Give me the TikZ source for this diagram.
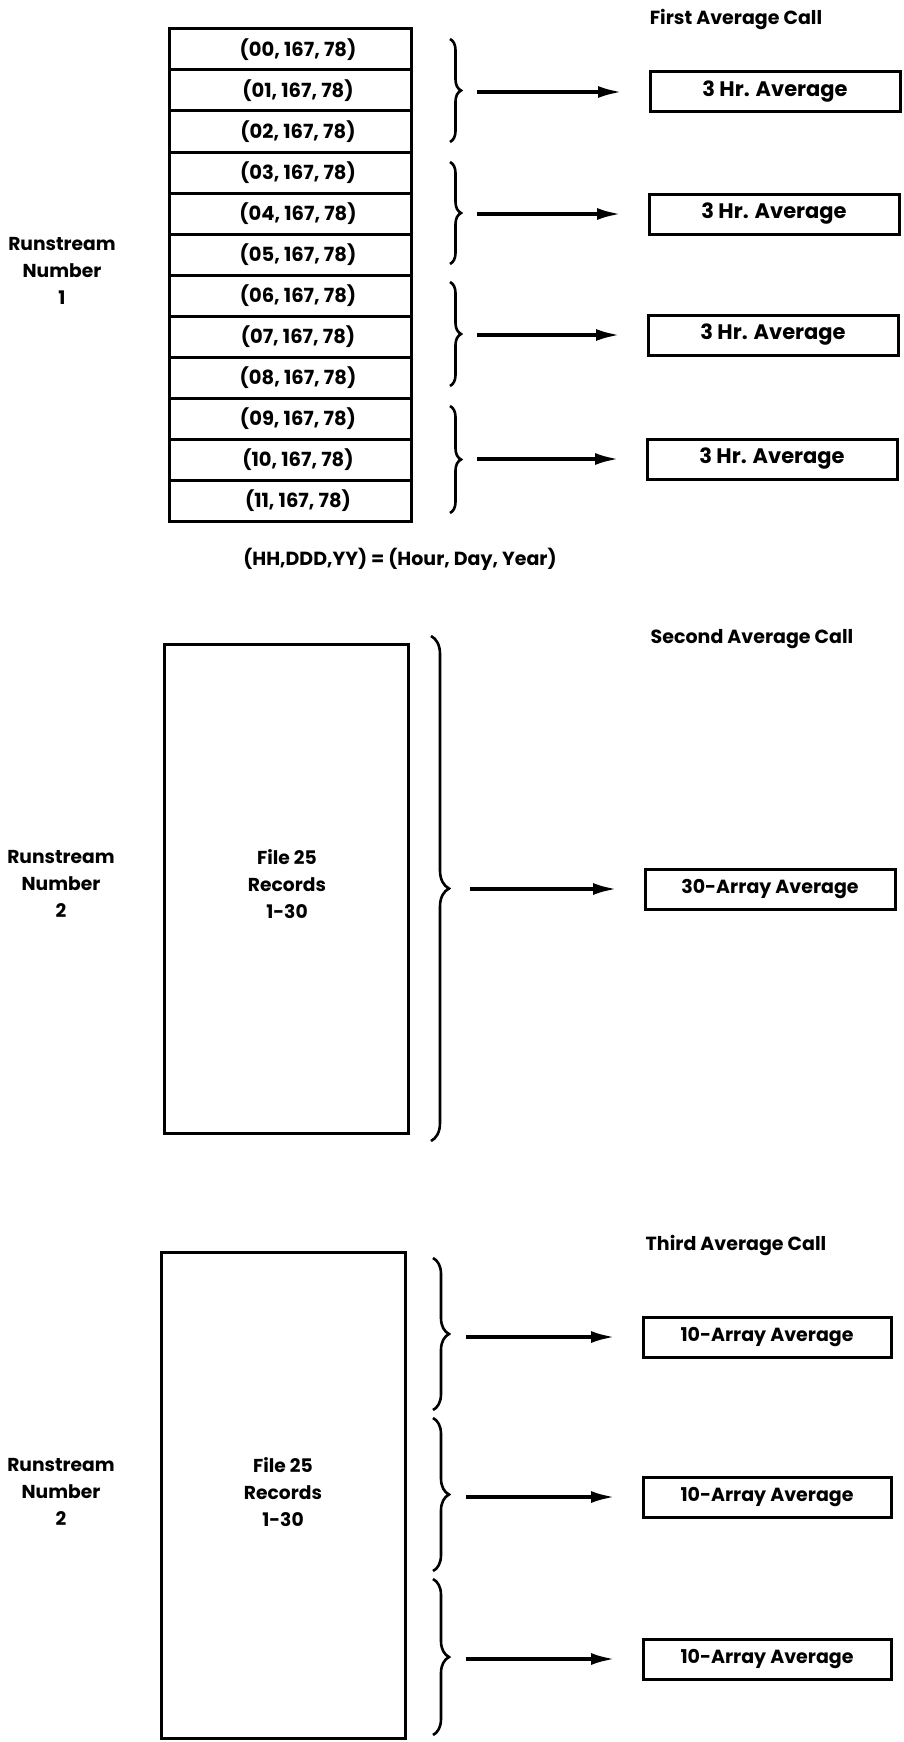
\documentclass[tikz,border=0pt]{standalone}
\usepackage{fontspec}
\setmainfont{Poppins}
\usetikzlibrary{arrows.meta,decorations.pathreplacing}
\begin{document}
\begin{tikzpicture}[x=1pt,y=-1pt,
  every node/.style={inner sep=0pt,outer sep=0pt},
  rec/.style={draw,line width=3pt,minimum width=242pt,minimum height=41pt},
  rtxt/.style={font=\bfseries\fontsize{19.5}{20}\selectfont},
  avg/.style={draw,line width=3pt,minimum width=250pt,minimum height=40pt,font=\bfseries\fontsize{19}{20}\selectfont},
  big/.style={draw,line width=3pt,minimum width=244pt},
  lbl/.style={align=center,font=\bfseries\fontsize{18.7}{26.7}\selectfont},
  ttl/.style={font=\bfseries\fontsize{19}{20}\selectfont},
  brc/.style={draw,line width=2.6pt,decorate,decoration={brace,amplitude=#1}},
  arr/.style={line width=3.6pt,-{Latex[length=24pt,width=12pt]},shorten >=28pt}
]
\useasboundingbox (0,0) rectangle (904,1742);

% ---------- section 1 ----------
\node[ttl] (t1) at (736,20) {First Average Call};
\foreach \i/\h in {0/00,1/01,2/02,3/03,4/04,5/05,6/06,7/07,8/08,9/09,10/10,11/11}{
  \node[rec] (r\i) at (290,{49.5+41*\i}) {};
  \node[rtxt] (r\i t) at (298,{49.5+41*\i}) {(\h, 167, 78)};
}
\node[lbl] (rs1) at (62,271) {Runstream\\Number\\1};
\node[ttl] (key) at (400,559) {(HH,DDD,YY) = (Hour, Day, Year)};

\path[brc=11pt] (450,39) -- (450,142);
\path[brc=11pt] (450,162) -- (450,264);
\path[brc=11pt] (450,282) -- (450,386);
\path[brc=11pt] (450,406) -- (450,513);

\node[avg,font=\bfseries\fontsize{21}{22}\selectfont] (h1) at (775,92) {3 Hr. Average};
\node[avg,font=\bfseries\fontsize{21}{22}\selectfont] (h2) at (774,214) {3 Hr. Average};
\node[avg,font=\bfseries\fontsize{21}{22}\selectfont] (h3) at (773,335) {3 Hr. Average};
\node[avg,font=\bfseries\fontsize{21}{22}\selectfont] (h4) at (772,459) {3 Hr. Average};
\coordinate (s1) at (477,92);
\coordinate (s2) at (477,214);
\coordinate (s3) at (477,335);
\coordinate (s4) at (477,459);
\draw[arr] (s1) -- (h1.west);
\draw[arr] (s2) -- (h2.west);
\draw[arr] (s3) -- (h3.west);
\draw[arr] (s4) -- (h4.west);

% ---------- section 2 ----------
\node[ttl] (t2) at (752,639) {Second Average Call};
\node[big,minimum height=489pt] (f2) at (286,888.5) {};
\node[lbl] (f2t) at (287,884) {File 25\\Records\\1-30};
\node[lbl] (rs2) at (61,884) {Runstream\\Number\\2};
\path[brc=18pt] (431,636) -- (431,1141);
\node[avg] (a30) at (770,889) {30-Array Average};
\coordinate (s5) at (470,889);
\draw[arr] (s5) -- (a30.west);

% ---------- section 3 ----------
\node[ttl] (t3) at (736,1245) {Third Average Call};
\node[big,minimum height=486pt] (f3) at (283,1495) {};
\node[lbl] (f3t) at (283,1492) {File 25\\Records\\1-30};
\node[lbl] (rs3) at (61,1492) {Runstream\\Number\\2};
\path[brc=16pt] (433,1258) -- (433,1410);
\path[brc=16pt] (433,1418) -- (433,1571);
\path[brc=16pt] (433,1579) -- (433,1735);
\node[avg,minimum width=248pt] (b1) at (767,1337) {10-Array Average};
\node[avg,minimum width=248pt] (b2) at (767,1497) {10-Array Average};
\node[avg,minimum width=248pt] (b3) at (767,1659) {10-Array Average};
\coordinate (s6) at (466,1337);
\coordinate (s7) at (466,1497);
\coordinate (s8) at (466,1659);
\draw[arr] (s6) -- (b1.west);
\draw[arr] (s7) -- (b2.west);
\draw[arr] (s8) -- (b3.west);
\end{tikzpicture}
\end{document}
